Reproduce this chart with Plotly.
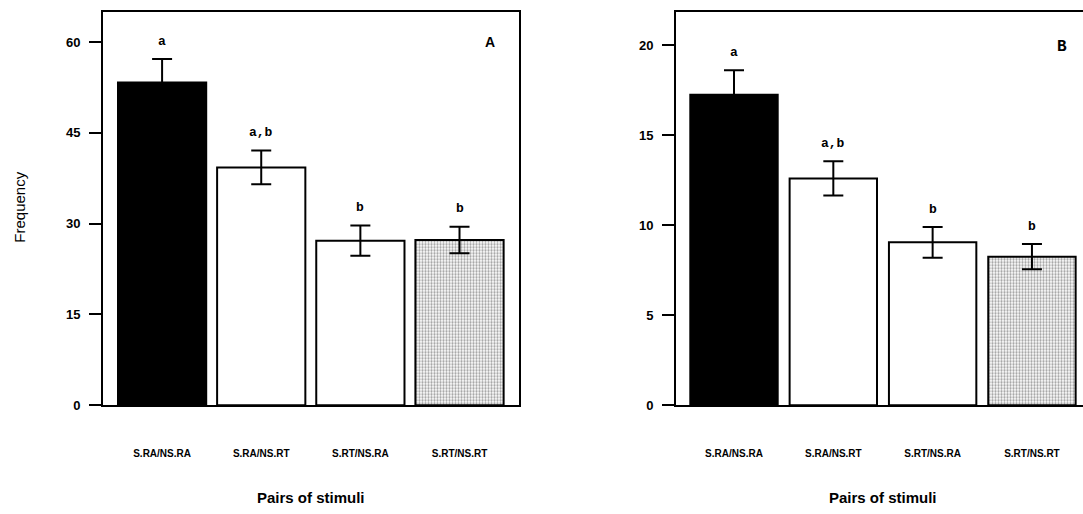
import plotly.graph_objects as go

# Stimulus pairs shown on both panels
pairs = ["S.RA/NS.RA", "S.RA/NS.RT", "S.RT/NS.RA", "S.RT/NS.RT"]

# Panel A: mean frequency and standard error
freq_a = [53.3, 39.3, 27.2, 27.3]
err_a = [3.9, 2.8, 2.5, 2.2]
groups_a = ["a", "a,b", "b", "b"]

# Panel B: mean frequency and standard error
freq_b = [17.25, 12.6, 9.05, 8.25]
err_b = [1.35, 0.95, 0.85, 0.7]
groups_b = ["a", "a,b", "b", "b"]

ticks_a = [0, 15, 30, 45, 60]
ticks_b = [0, 5, 10, 15, 20]

W, H = 1083, 514
FONT = "Liberation Sans, Arial, sans-serif"
MONO = "Liberation Mono, Courier New, monospace"

fills = ["black", "white", "white", "white"]
patterns = ["", "", "", "."]


def bar_trace(vals, errs, xaxis, yaxis, width):
    return go.Bar(
        x=list(range(len(pairs))),
        y=vals,
        width=width,
        marker=dict(
            color=fills,
            line=dict(color="black", width=2),
            pattern=dict(shape=patterns, fgcolor="#3a3a3a", bgcolor="#f4f4f4",
                         size=3, solidity=0.45, fillmode="overlay"),
        ),
        error_y=dict(type="data", array=errs, visible=True,
                     color="black", thickness=2, width=10),
        xaxis=xaxis, yaxis=yaxis,
        showlegend=False, hoverinfo="skip",
    )


fig = go.Figure()
fig.add_trace(bar_trace(freq_a, err_a, "x", "y", 0.89))
fig.add_trace(bar_trace(freq_b, err_b, "x2", "y2", 0.88))

ydom = [0.199, 0.9767]
common_x = dict(
    tickmode="array", tickvals=list(range(len(pairs))), ticktext=pairs,
    showline=True, linecolor="black", linewidth=2, mirror=True,
    ticks="", showgrid=False, zeroline=False, ticklabelstandoff=38,
    tickfont=dict(family=FONT, size=10, color="black", weight="bold"),
)
common_y = dict(
    showline=True, linecolor="black", linewidth=2,
    ticks="outside", ticklen=12, tickwidth=2, tickcolor="black",
    showgrid=False, zeroline=False, ticklabelstandoff=6,
    tickfont=dict(family=FONT, size=13, color="black", weight="bold"),
    domain=ydom,
)

fig.update_layout(
    width=W, height=H,
    margin=dict(l=0, r=0, t=0, b=0),
    paper_bgcolor="white", plot_bgcolor="white",
    xaxis=dict(domain=[103 / W, 519 / W], range=[-0.596, 3.6], **common_x),
    yaxis=dict(range=[0, 65], tickvals=ticks_a, mirror=True, anchor="x",
               **common_y),
    xaxis2=dict(domain=[676 / W, 1.0], range=[-0.584, 3.514], anchor="y2",
                **common_x),
    yaxis2=dict(range=[0, 21.85], tickvals=ticks_b, mirror=False, anchor="x2",
                **common_y),
)

# Significance groups above each error bar
for xa, ya, vals, errs, groups in [("x", "y", freq_a, err_a, groups_a),
                                   ("x2", "y2", freq_b, err_b, groups_b)]:
    for i, (v, e, g) in enumerate(zip(vals, errs, groups)):
        fig.add_annotation(
            x=i, y=v + e, xref=xa, yref=ya, text=g, showarrow=False,
            yanchor="middle", yshift=18,
            font=dict(family=MONO, size=13, color="black", weight="bold"),
        )

# Panel letters
fig.add_annotation(x=490 / W, y=1 - 43 / H, xref="paper", yref="paper",
                   text="A", showarrow=False, xanchor="center", yanchor="middle",
                   font=dict(family=FONT, size=14, color="black", weight="bold"))
fig.add_annotation(x=1062 / W, y=1 - 48 / H, xref="paper", yref="paper",
                   text="B", showarrow=False, xanchor="center", yanchor="middle",
                   font=dict(family=MONO, size=16, color="black", weight="bold"))

# Axis titles
for cx in [311 / W, 883 / W]:
    fig.add_annotation(x=cx, y=1 - 505 / H, xref="paper", yref="paper",
                       text="Pairs of stimuli", showarrow=False,
                       xanchor="center", yanchor="middle",
                       font=dict(family=FONT, size=15, color="black",
                                 weight="bold"))
fig.add_annotation(x=20 / W, y=1 - 211 / H, xref="paper", yref="paper",
                   text="Frequency", showarrow=False, textangle=-90,
                   xanchor="center", yanchor="middle",
                   font=dict(family=FONT, size=15, color="black"))

fig.write_html("out.html")
